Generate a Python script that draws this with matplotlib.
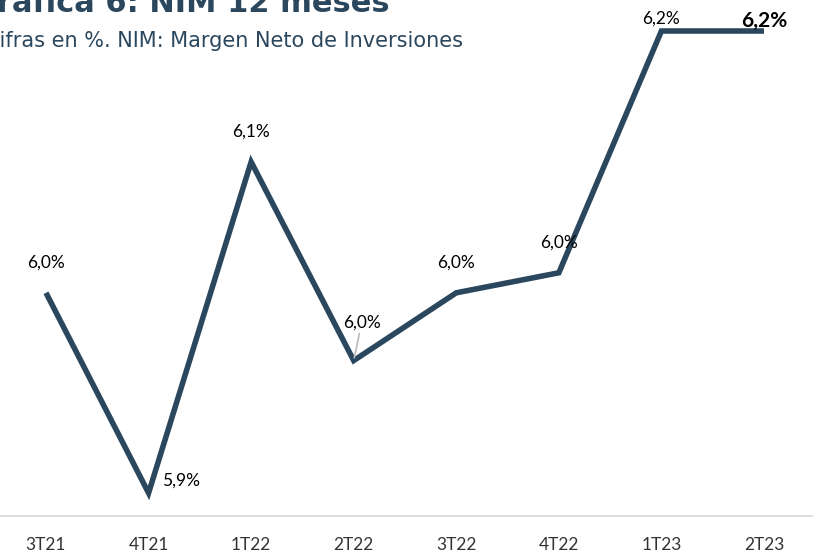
import matplotlib
matplotlib.use("Agg")
import matplotlib.pyplot as plt

categories = ["3T21", "4T21", "1T22", "2T22", "3T22", "4T22", "1T23", "2T23"]
nim = [6.03, 5.90, 6.115, 5.986, 6.03, 6.043, 6.20, 6.20]
labels = ["6,0%", "5,9%", "6,1%", "6,0%", "6,0%", "6,0%", "6,2%", "6,2%"]

title = "Gráfica 6: NIM 12 meses"
subtitle = "Cifras en %. NIM: Margen Neto de Inversiones"

W, H = 813, 553
fig = plt.figure(figsize=(W / 100, H / 100), dpi=100)
plt.rcParams['font.family'] = ['Lato', 'DejaVu Sans']

line_color = "#2B475E"
ax = fig.add_axes([0, (H - 516) / H, 1, 516 / H])

step = 102.57
x0 = 46
ax.set_xlim(-x0 / step, (W - x0) / step)
ppu = 462 / 0.3  # pixels per unit
ax.set_ylim(6.20 - (516 - 31) / ppu, 6.20 + 31 / ppu)

xs = list(range(len(categories)))
ax.plot(xs, nim, color=line_color, lw=4, solid_capstyle='butt', solid_joinstyle='miter', zorder=3)

for s in ["top", "right", "left"]:
    ax.spines[s].set_visible(False)
ax.spines["bottom"].set_color("#DDDDDD")
ax.spines["bottom"].set_linewidth(1.5)
ax.set_yticks([])
ax.set_xticks(xs)
ax.set_xticklabels(categories, fontsize=12.5, color="#333333")
ax.tick_params(axis='x', length=0, pad=15)

offsets = [(0, 30), (32, 12), (0, 30), (8, 38), (0, 30), (0, 30), (0, 12), (0, 10)]
for i, (v, lab) in enumerate(zip(nim, labels)):
    dx, dy = offsets[i]
    bold = i == len(nim) - 1
    kw = {}
    if i == 3:
        kw['arrowprops'] = dict(arrowstyle='-', color='#BBBBBB', lw=1.2, shrinkA=0, shrinkB=2)
    ax.annotate(lab, (i, v), xytext=(dx, dy), textcoords='offset pixels',
                ha='center', va='center', fontsize=15 if bold else 12.5,
                fontweight='bold' if bold else 'normal', color='black', zorder=4, **kw)

fig.text(-28 / W, 1 - 12 / H, title, fontsize=22, fontweight='bold', color=line_color,
         ha='left', va='baseline', family=['DejaVu Sans'])
fig.text(-15 / W, 1 - 41 / H, subtitle, fontsize=15, color=line_color, ha='left', va='center',
         family=['DejaVu Sans'])

fig.savefig("out.png", dpi=100)
